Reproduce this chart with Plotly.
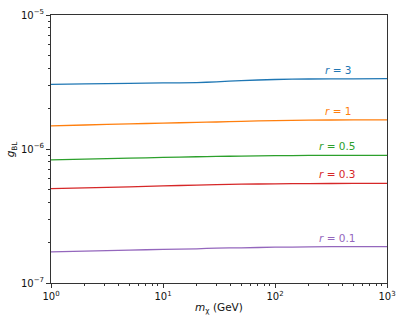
import math
import plotly.graph_objects as go

m_chi = [1, 2, 5, 10, 20, 30, 50, 100, 200, 500, 1000]
g_r3 = [3.04e-6, 3.06e-6, 3.09e-6, 3.11e-6, 3.13e-6, 3.17e-6, 3.24e-6, 3.30e-6, 3.33e-6, 3.34e-6, 3.35e-6]
g_r1 = [1.49e-6, 1.51e-6, 1.54e-6, 1.56e-6, 1.58e-6, 1.59e-6, 1.61e-6, 1.63e-6, 1.64e-6, 1.65e-6, 1.65e-6]
g_r05 = [8.30e-7, 8.40e-7, 8.55e-7, 8.65e-7, 8.75e-7, 8.80e-7, 8.85e-7, 8.92e-7, 8.95e-7, 8.97e-7, 8.97e-7]
g_r03 = [5.06e-7, 5.12e-7, 5.22e-7, 5.30e-7, 5.38e-7, 5.42e-7, 5.46e-7, 5.50e-7, 5.52e-7, 5.53e-7, 5.53e-7]
g_r01 = [1.71e-7, 1.73e-7, 1.76e-7, 1.78e-7, 1.80e-7, 1.82e-7, 1.83e-7, 1.85e-7, 1.86e-7, 1.87e-7, 1.87e-7]
labels = ["3", "1", "0.5", "0.3", "0.1"]
colors = ["#1f77b4", "#ff7f0e", "#2ca02c", "#d62728", "#9467bd"]
series = [g_r3, g_r1, g_r05, g_r03, g_r01]
label_x = 365

fig = go.Figure()
for ys, lab, col in zip(series, labels, colors):
    fig.add_trace(go.Scatter(x=m_chi, y=ys, mode="lines", line=dict(color=col, width=1.3, shape="spline", smoothing=0.6),
                             showlegend=False))
    fig.add_annotation(x=math.log10(label_x), y=math.log10(ys[-2]), text=f"<i>r</i> = {lab}",
                       showarrow=False, xanchor="center", yanchor="bottom", yshift=1,
                       font=dict(color=col, size=10.5))

y_major = [1e-7, 1e-6, 1e-5]
y_text = ["10<sup>−7</sup>", "10<sup>−6</sup>", "10<sup>−5</sup>"]
x_major = [1, 10, 100, 1000]
x_text = ["10<sup>0</sup>", "10<sup>1</sup>", "10<sup>2</sup>", "10<sup>3</sup>"]
y_minor = [k * 10**e for e in (-7, -6) for k in range(2, 10)]
x_minor = [k * 10**e for e in (0, 1, 2) for k in range(2, 10)]

axis_common = dict(showline=True, linecolor="#333", linewidth=1, mirror=True, showgrid=False,
                   zeroline=False, ticks="outside", ticklen=4, tickcolor="#333", automargin=False,
                   tickfont=dict(size=10, color="#111"))

fig.update_xaxes(type="log", range=[0, 3], tickmode="array", tickvals=x_major, ticktext=x_text,
                 minor=dict(ticks="outside", ticklen=2, tickcolor="#333", tickmode="array", tickvals=x_minor),
                 title=dict(text="<i>m</i><sub>χ</sub> (GeV)", font=dict(size=10.5, color="#111"), standoff=2),
                 **axis_common)
fig.update_yaxes(type="log", range=[-7, -5], tickmode="array", tickvals=y_major, ticktext=y_text,
                 minor=dict(ticks="outside", ticklen=2, tickcolor="#333", tickmode="array", tickvals=y_minor),
                 **axis_common)

fig.add_annotation(xref="paper", yref="paper", x=-0.118, y=0.5, text="<i>g</i><sub>BL</sub>",
                   textangle=-90, showarrow=False, xanchor="center", yanchor="middle",
                   font=dict(size=10.5, color="#111"))

fig.update_layout(width=407, height=326, margin=dict(l=51, r=20, t=15, b=43),
                  plot_bgcolor="white", paper_bgcolor="white",
                  font=dict(family="DejaVu Sans", size=10.5, color="#111"))

fig.write_html("out.html", config={"displayModeBar": False},
               post_script="document.body.style.margin='0';document.body.style.overflow='hidden';")
